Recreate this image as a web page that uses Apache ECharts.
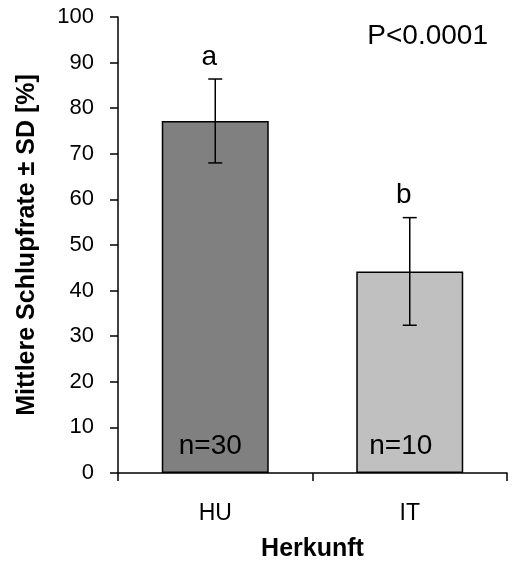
<!DOCTYPE html>
<html><head><meta charset="utf-8">
<script src="https://cdn.jsdelivr.net/npm/echarts@6/dist/echarts.min.js"></script>
<style>html,body{margin:0;padding:0;background:#fff}#c{width:512px;height:561px}</style>
</head><body><div id="c"></div>
<script>
var categories = ['HU', 'IT'];
var means = [77.2, 44.2];
var sds = [9.2, 11.8];
var letters = ['a', 'b'];
var nLabels = ['n=30', 'n=10'];
var barColors = ['#808080', '#c0c0c0'];
var yTicks = {min: 0, max: 100, interval: 10};
var pText = 'P<0.0001';

var FONT = '"Liberation Sans", Arial, sans-serif';
var chart = echarts.init(document.getElementById('c'), null, {renderer: 'canvas'});
var errData = categories.map(function (c, i) { return [i, means[i], sds[i]]; });
var nOffsets = [-5, -9];

chart.setOption({
  animation: false,
  backgroundColor: '#fff',
  grid: {left: 118, right: 5, top: 17, bottom: 88, containLabel: false, outerBoundsMode: 'none'},
  xAxis: {
    type: 'category', data: categories, boundaryGap: true,
    name: 'Herkunft', nameLocation: 'middle', nameGap: 64,
    nameTextStyle: {fontFamily: FONT, fontSize: 25, fontWeight: 'bold', color: '#000'},
    axisLine: {lineStyle: {color: '#000', width: 1.5}},
    axisTick: {show: true, alignWithLabel: false, length: 8, lineStyle: {color: '#000', width: 1.5}},
    axisLabel: {fontFamily: FONT, fontSize: 23, color: '#000', margin: 29}
  },
  yAxis: {
    type: 'value', min: yTicks.min, max: yTicks.max, interval: yTicks.interval,
    name: 'Mittlere Schlupfrate ± SD [%]', nameLocation: 'middle', nameGap: 78, nameRotate: 90,
    nameTextStyle: {fontFamily: FONT, fontSize: 25, fontWeight: 'bold', color: '#000'},
    axisLine: {show: true, lineStyle: {color: '#000', width: 1.5}},
    axisTick: {show: true, inside: false, length: 8, lineStyle: {color: '#000', width: 1.5}},
    axisLabel: {fontFamily: FONT, fontSize: 22, color: '#000', margin: 24},
    splitLine: {show: false}
  },
  series: [{
    type: 'bar', barWidth: '55%',
    data: means.map(function (v, i) {
      return {value: v, itemStyle: {color: barColors[i], borderColor: '#000', borderWidth: 1.5},
        label: {show: true, formatter: nLabels[i], position: 'insideBottom', distance: 13, offset: [nOffsets[i], 0],
          fontFamily: FONT, fontSize: 28, color: '#000'}};
    })
  }, {
    type: 'custom', z: 10,
    data: errData,
    renderItem: function (params, api) {
      var x = api.value(0), m = api.value(1), s = api.value(2);
      var top = api.coord([x, m + s]);
      var bot = api.coord([x, m - s]);
      var hw = 7;
      var st = {stroke: '#000', lineWidth: 1.5};
      return {type: 'group', children: [
        {type: 'line', shape: {x1: top[0], y1: top[1], x2: bot[0], y2: bot[1]}, style: st},
        {type: 'line', shape: {x1: top[0] - hw, y1: top[1], x2: top[0] + hw, y2: top[1]}, style: st},
        {type: 'line', shape: {x1: bot[0] - hw, y1: bot[1], x2: bot[0] + hw, y2: bot[1]}, style: st},
        {type: 'text', x: top[0] - 6, y: top[1] - 8, style: {text: letters[params.dataIndex], fontFamily: FONT, fontSize: 28,
          fill: '#000', align: 'center', verticalAlign: 'bottom'}}
      ]};
    }
  }],
  graphic: [{
    type: 'text', right: 24, top: 22,
    style: {text: pText, fontFamily: FONT, fontSize: 28, fill: '#000'}
  }]
});
</script>
</body></html>
